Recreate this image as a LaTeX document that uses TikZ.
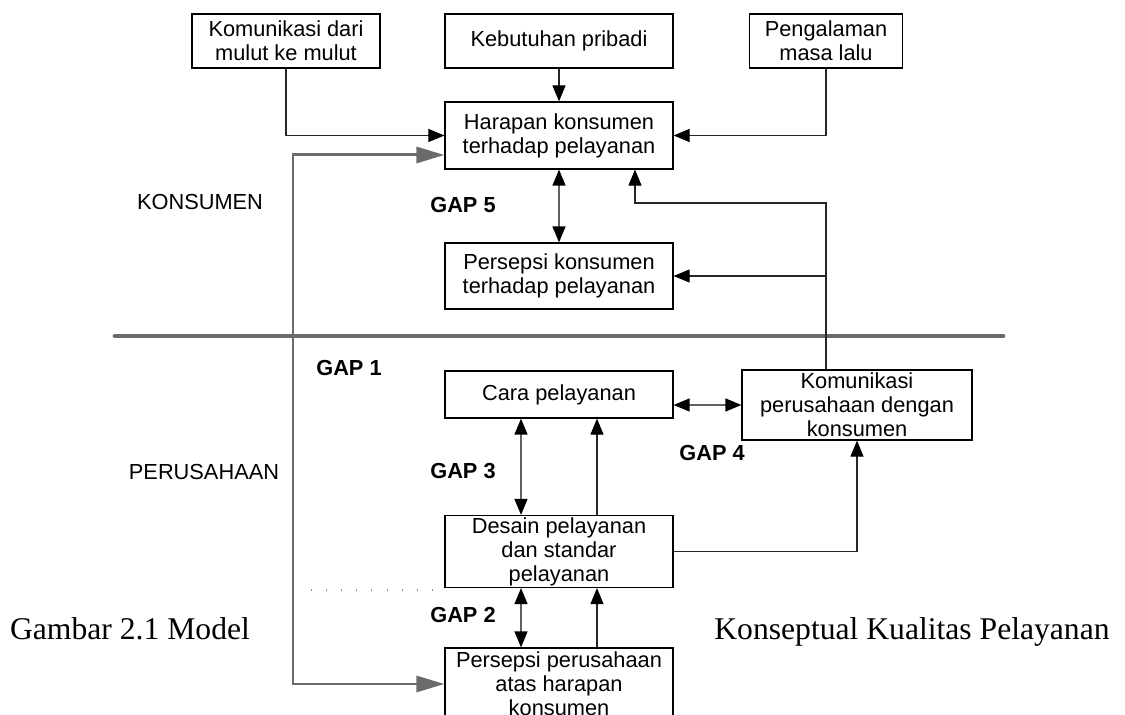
\documentclass[tikz,border=0pt]{standalone}
\usepackage{fontspec}
\setmainfont{Liberation Sans}
\newfontfamily\capfont{Liberation Serif}
\usepackage{tikz}
\usetikzlibrary{arrows.meta,calc}
\tikzstyle{kotak}=[draw, rectangle, align=center, minimum width=4.56cm, inner sep=1pt, line width=0.7pt, font=\fontsize{12.4}{13.7}\selectfont]
\tikzstyle{edge}=[-{Triangle[length=0.32cm, width=0.26cm, black]}, line width=0.6pt, draw=black!85]
\tikzstyle{dedge}=[{Triangle[length=0.32cm, width=0.26cm, black]}-{Triangle[length=0.32cm, width=0.26cm, black]}, line width=0.7pt, draw=black!62]
\tikzstyle{garis}=[{Triangle[length=0.56cm, width=0.32cm]}-{Triangle[length=0.56cm, width=0.32cm]}, line width=1.7pt, draw=black!58]
\tikzstyle{gaplbl}=[font=\fontsize{12.4}{13.7}\selectfont\bfseries]
\tikzstyle{lbl}=[font=\fontsize{12.4}{13.7}\selectfont]
\tikzstyle{caption}=[font=\capfont\fontsize{18}{20}\selectfont, anchor=base]

\begin{document}
\begin{tikzpicture}[x=0.02cm, y=-0.02cm]
        \useasboundingbox (0,0) rectangle (1125,715);
        % konsumen
        \node(mulut) [kotak, minimum width=3.76cm, minimum height=1.08cm] at (286, 41){Komunikasi dari\\mulut ke mulut};
        \node(butuh) [kotak, minimum height=1.08cm] at (559, 41){Kebutuhan pribadi};
        \node(alami) [kotak, minimum width=3.06cm, minimum height=1.08cm] at (826, 41){Pengalaman\\masa lalu};
        \node(harapan) [kotak, minimum height=1.34cm] at (559, 135.5){Harapan konsumen\\terhadap pelayanan};
        \node(persepsiK) [kotak, minimum height=1.32cm] at (559, 276){Persepsi konsumen\\terhadap pelayanan};
        % perusahaan
        \node(cara) [kotak, minimum height=0.94cm] at (559, 394.5){Cara pelayanan};
        \node(komper) [kotak, minimum width=4.6cm, minimum height=1.4cm] at (857, 405){Komunikasi\\perusahaan dengan\\konsumen};
        \node(desain) [kotak, minimum height=1.34cm] at (559, 551.5){Desain pelayanan\\dan standar\\pelayanan};
        \node(persepsiP) [kotak, minimum height=1.44cm] at (559, 684){Persepsi perusahaan\\atas harapan\\konsumen};
        % label
        \node(konsumen) [lbl] at (200, 202){KONSUMEN};
        \node(perusahaan) [lbl] at (204, 472){PERUSAHAAN};
        \node(gap1) [gaplbl] at (349, 368){GAP 1};
        \node(gap2) [gaplbl] at (463, 615){GAP 2};
        \node(gap3) [gaplbl] at (463, 471){GAP 3};
        \node(gap4) [gaplbl] at (712, 453){GAP 4};
        \node(gap5) [gaplbl] at (463, 205){GAP 5};
        \node(cap1) [caption] at (130, 639){Gambar 2.1 Model};
        \node(cap2) [caption] at (912, 639){Konseptual Kualitas Pelayanan};
        \coordinate(kiri) at (293, 420);
        \coordinate(atas) at (826, 203);
        \draw [line width=2.8pt, black!58, line cap=round] (115, 336) -- (1003, 336);
        \draw [black!45, line width=0.6pt, dash pattern=on 0.6pt off 8pt] (311, 590) -- (desain.south west |- 0, 590);
        \draw[garis] ([yshift=-0.39cm]harapan.west) -| (kiri) |- (persepsiP.west);
        \draw[edge] (mulut) |- (harapan);
        \draw[edge] (butuh) to (harapan);
        \draw[edge] (alami) |- (harapan);
        \draw[dedge] (harapan) to (persepsiK);
        \draw[edge] (komper.north -| atas) -- (atas) -| ([xshift=1.52cm]harapan.south);
        \draw[edge] (atas |- persepsiK.east) -- (persepsiK.east);
        \draw[dedge] (cara.east |- komper.west) -- (komper.west);
        \draw[dedge] ([xshift=-0.76cm]cara.south) -- ([xshift=-0.76cm]desain.north);
        \draw[edge] ([xshift=0.76cm]desain.north) -- ([xshift=0.76cm]cara.south);
        \draw[edge] (desain) -| (komper);
        \draw[dedge] ([xshift=-0.76cm]desain.south) -- ([xshift=-0.76cm]persepsiP.north);
        \draw[edge] ([xshift=0.76cm]persepsiP.north) -- ([xshift=0.76cm]desain.south);
     \end{tikzpicture}
\end{document}
